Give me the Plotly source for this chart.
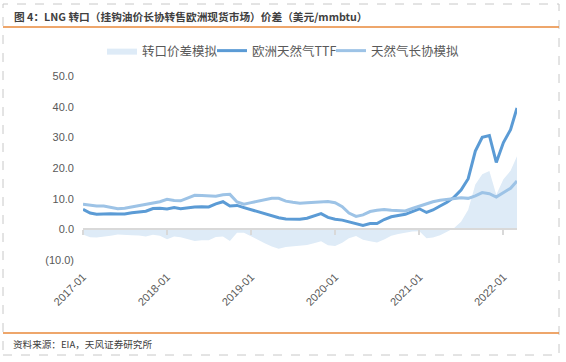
import plotly.graph_objects as go

# ---- data ----
months = [f"{y}-{m:02d}-01" for y in range(2017, 2023) for m in range(1, 13)][:63]

ttf = [6.5, 5.3, 4.9, 5.1, 5.1, 5.0, 5.0, 5.4, 5.7, 5.9, 6.8, 6.9,
       6.6, 7.1, 6.7, 7.1, 7.3, 7.4, 7.3, 8.3, 9.0, 7.6, 7.8, 7.1,
       6.4, 5.6, 5.1, 4.5, 3.8, 3.4, 3.3, 3.3, 3.6, 4.3, 5.1, 3.9,
       3.3, 3.0, 2.4, 2.0, 1.3, 1.9, 1.9, 3.2, 4.1, 4.5, 4.9, 5.8,
       6.7, 5.5, 6.3, 7.6, 8.8, 10.5, 12.8, 16.5, 25.5, 30.0, 30.6, 21.8,
       28.3, 32.5, 39.6]

ltc = [8.2, 7.9, 7.6, 7.6, 7.2, 6.7, 6.9, 7.3, 7.7, 8.2, 8.6, 9.0,
       9.8, 9.4, 9.3, 10.2, 11.1, 11.0, 10.9, 10.8, 11.3, 11.4, 8.9, 8.2,
       8.7, 9.2, 9.6, 10.1, 10.1, 9.2, 8.8, 8.5, 8.7, 8.8, 9.0, 9.1,
       8.7, 7.4, 5.3, 4.2, 4.7, 5.8, 6.2, 6.5, 6.2, 6.0, 6.0, 6.8,
       7.6, 8.4, 9.0, 9.5, 9.8, 10.1, 10.3, 10.1, 10.9, 12.0, 11.6, 10.5,
       12.0, 13.4, 15.8]

spread = [-1.7, -2.6, -2.7, -2.5, -2.1, -1.7, -1.9, -1.9, -2.0, -2.3, -1.8, -2.1,
          -3.2, -2.3, -2.6, -3.1, -3.8, -3.6, -3.6, -2.5, -2.3, -3.8, -1.1, -1.1,
          -2.3, -3.6, -4.5, -5.6, -6.3, -5.8, -5.5, -5.2, -5.1, -4.5, -3.9, -5.2,
          -5.4, -4.4, -2.9, -2.2, -3.4, -3.9, -4.3, -3.3, -2.1, -1.5, -1.1, -0.7,
          -0.6, -2.9, -2.7, -1.9, -0.8, 0.4, 2.5, 6.4, 14.6, 18.0, 19.0, 11.3,
          16.3, 19.1, 23.8]

series_names = ["转口价差模拟", "欧洲天然气TTF", "天然气长协模拟"]

ytick_vals = [-10, 0, 10, 20, 30, 40, 50]
ytick_text = ["(10.0)", "0.0", "10.0", "20.0", "30.0", "40.0", "50.0"]
xtick_vals = ["2017-01-01", "2018-01-01", "2019-01-01", "2020-01-01", "2021-01-01", "2022-01-01"]
xtick_text = ["2017-01", "2018-01", "2019-01", "2020-01", "2021-01", "2022-01"]

title_text = "图 4：LNG 转口（挂钩油价长协转售欧洲现货市场）价差（美元/mmbtu）"
source_text = "资料来源：EIA，天风证券研究所"

# ---- layout geometry ----
W, H = 566, 362
L, R, T, B = 83, 517, 76, 260


def px_x(px):
    return (px - L) / (R - L)


def px_y(py):
    return (B - py) / (B - T)


C_DARK = "#5B9BD5"
C_LIGHT = "#9DC3E6"
C_AREA = "#DEEBF7"
GRAY = "#595959"
FONT = "Liberation Sans, Noto Sans CJK SC, sans-serif"
CJK = "Noto Sans CJK SC, sans-serif"

fig = go.Figure()
fig.add_trace(go.Scatter(x=months, y=spread, name=series_names[0], mode="lines",
                         fill="tozeroy", fillcolor=C_AREA, legend="legend",
                         line=dict(width=0, color=C_AREA)))
fig.add_trace(go.Scatter(x=months, y=ttf, name=series_names[1], mode="lines",
                         legend="legend2", line=dict(width=3, color=C_DARK)))
fig.add_trace(go.Scatter(x=months, y=ltc, name=series_names[2], mode="lines",
                         legend="legend3", line=dict(width=3, color=C_LIGHT)))

zero_pos = (0 - ytick_vals[0]) / (ytick_vals[-1] - ytick_vals[0])


def legend_at(px):
    return dict(orientation="h", x=px_x(px), y=px_y(51), xanchor="left", yanchor="middle",
                font=dict(size=12.5, color=GRAY, family=CJK), bgcolor="rgba(0,0,0,0)",
                itemwidth=30)


fig.update_layout(
    width=W, height=H,
    margin=dict(l=L, r=W - R, t=T, b=H - B, autoexpand=False),
    paper_bgcolor="white", plot_bgcolor="white",
    font=dict(family=FONT, color=GRAY, size=11),
    showlegend=True,
    legend=legend_at(102),
    legend2=legend_at(212),
    legend3=legend_at(331),
    xaxis=dict(type="date", range=[months[0], months[-1]],
               anchor="free", position=zero_pos,
               showline=True, linecolor="#D9D9D9", linewidth=2,
               ticks="outside", ticklen=5, tickwidth=2, tickcolor="#D9D9D9",
               tickvals=xtick_vals, ticktext=xtick_text, tickangle=-45,
               ticklabelstandoff=31,
               tickfont=dict(size=11, color=GRAY, family=FONT),
               showgrid=False, zeroline=False, automargin=False),
    yaxis=dict(range=[ytick_vals[0], ytick_vals[-1]], tickvals=ytick_vals, ticktext=ytick_text,
               showline=False, showgrid=False, zeroline=False, ticks="",
               ticklabelstandoff=8,
               tickfont=dict(size=11, color=GRAY, family=FONT), automargin=False),
    shapes=[
        dict(type="rect", xref="paper", yref="paper",
             x0=px_x(3), x1=px_x(559), y0=px_y(355), y1=px_y(4),
             line=dict(color="#C8C8C8", width=1, dash="dash"), layer="below"),
        dict(type="line", xref="paper", yref="paper",
             x0=px_x(3), x1=px_x(559), y0=px_y(27), y1=px_y(27),
             line=dict(color="#E8893A", width=1.5)),
        dict(type="line", xref="paper", yref="paper",
             x0=px_x(3), x1=px_x(559), y0=px_y(333), y1=px_y(333),
             line=dict(color="#E8893A", width=1.5)),
    ],
    annotations=[
        dict(text="<b>" + title_text + "</b>", xref="paper", yref="paper",
             x=px_x(12), y=px_y(16), xanchor="left", yanchor="middle", showarrow=False,
             font=dict(size=10.7, color="#404040", family=CJK)),
        dict(text=source_text, xref="paper", yref="paper",
             x=px_x(11), y=px_y(344), xanchor="left", yanchor="middle", showarrow=False,
             font=dict(size=9.6, color="#404040", family=CJK)),
    ],
)

fig.write_html("out.html", config={"displayModeBar": False},
               post_script="document.body.style.margin='0';")
